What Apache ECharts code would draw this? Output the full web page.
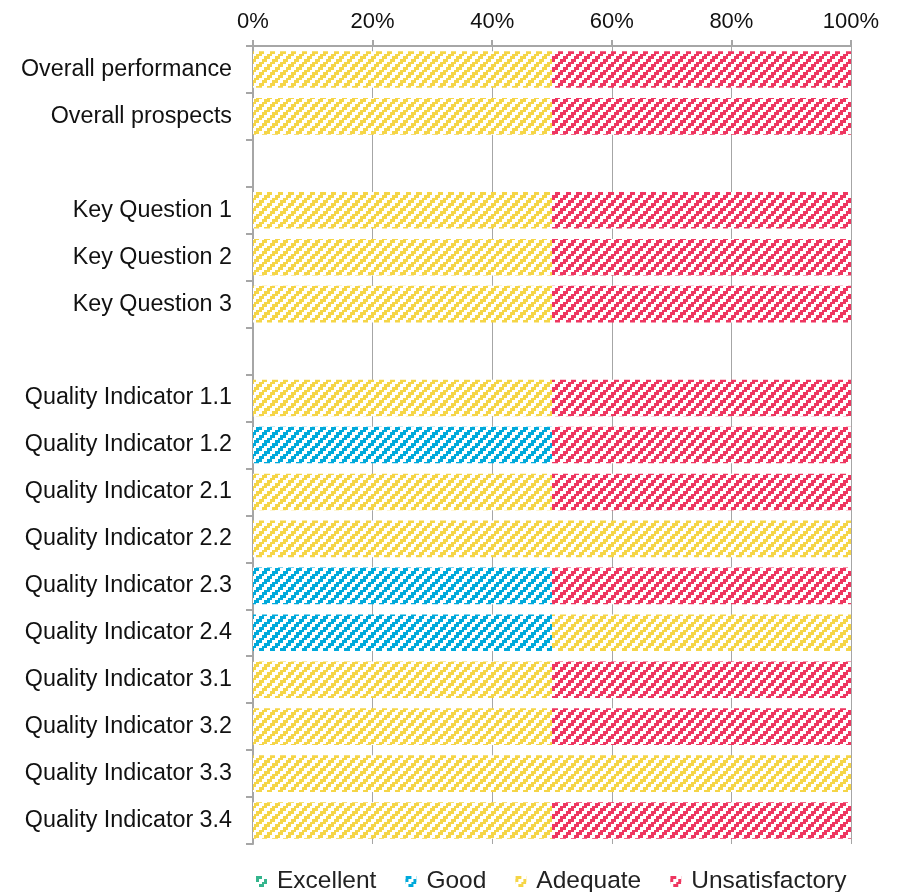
<!DOCTYPE html>
<html><head><meta charset="utf-8">
<script src="https://cdn.jsdelivr.net/npm/echarts@6/dist/echarts.min.js"></script>
<style>html,body{margin:0;padding:0;background:#fff}#c{width:904px;height:892px}</style>
</head><body><div id="c"></div>
<script>
const categories = ['Overall performance','Overall prospects','',
  'Key Question 1','Key Question 2','Key Question 3',' ',
  'Quality Indicator 1.1','Quality Indicator 1.2','Quality Indicator 2.1','Quality Indicator 2.2',
  'Quality Indicator 2.3','Quality Indicator 2.4','Quality Indicator 3.1','Quality Indicator 3.2',
  'Quality Indicator 3.3','Quality Indicator 3.4'];
const excellent      = [0,0,null,0,0,0,null,0,0,0,0,0,0,0,0,0,0];
const good           = [0,0,null,0,0,0,null,0,50,0,0,50,50,0,0,0,0];
const adequate       = [50,50,null,50,50,50,null,50,0,50,100,0,50,50,50,100,50];
const unsatisfactory = [50,50,null,50,50,50,null,50,50,50,0,50,0,50,50,0,50];
const xTicks = [0,20,40,60,80,100];
const seriesNames = ['Excellent','Good','Adequate','Unsatisfactory'];
const seriesColors = ['#35b58d','#00a9db','#f5d547','#ee3660'];

function hatch(color){
  const c = document.createElement('canvas');
  c.width = 32; c.height = 32;
  const g = c.getContext('2d');
  g.fillStyle = '#ffffff'; g.fillRect(0,0,32,32);
  g.fillStyle = color;
  for (let py=0; py<32; py++) for (let px=0; px<32; px++){
    const bx = Math.floor(px*3/8), by = Math.floor(py*3/8);
    if ((bx+by)%4 < 2) g.fillRect(px,py,1,1);
  }
  return {image: c, repeat: 'repeat'};
}

const dataSets = [excellent, good, adequate, unsatisfactory];
const chart = echarts.init(document.getElementById('c'));
const font = 'Liberation Sans, Arial, sans-serif';
chart.setOption({
  animation: false,
  grid: {left: 253, right: 53, top: 46, bottom: 48},
  legend: {
    top: 864, left: 251, icon: 'rect', itemWidth: 11, itemHeight: 11, itemGap: 29,
    textStyle: {fontFamily: font, fontSize: 24.5, color: '#222', padding: [0,0,0,5]},
    data: seriesNames
  },
  xAxis: {
    type: 'value', position: 'top', min: 0, max: 100, interval: 20,
    axisLine: {show: true, lineStyle: {color: '#a6a6a6', width: 2}},
    axisTick: {show: true, length: 6, lineStyle: {color: '#a6a6a6', width: 2}},
    splitLine: {show: true, lineStyle: {color: '#a6a6a6', width: 1}},
    axisLabel: {fontFamily: font, fontSize: 22, color: '#111', margin: 13, formatter: '{value}%'}
  },
  yAxis: {
    type: 'category', inverse: true, data: categories,
    axisLine: {show: true, lineStyle: {color: '#a6a6a6', width: 2}},
    axisTick: {show: true, length: 7, lineStyle: {color: '#a6a6a6', width: 2}},
    axisLabel: {fontFamily: font, fontSize: 23.3, color: '#111', margin: 21}
  },
  series: seriesNames.map((n,i)=>({
    name: n, type: 'bar', stack: 'total', barCategoryGap: '22%',
    itemStyle: {color: hatch(seriesColors[i])},
    data: dataSets[i]
  }))
});
</script></body></html>
